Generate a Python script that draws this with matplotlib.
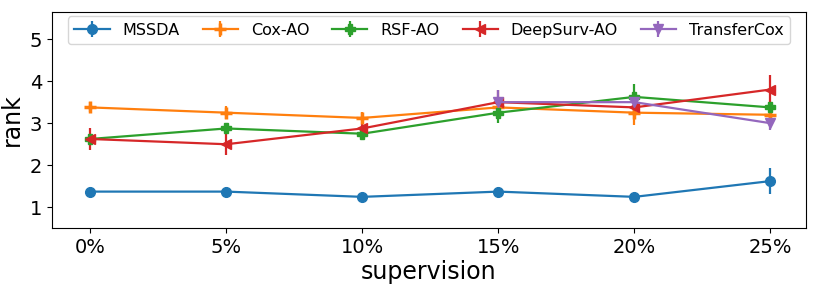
import numpy as np
import matplotlib
matplotlib.use("Agg")
import matplotlib.pyplot as plt

labels = ["0%", "5%", "10%", "15%", "20%", "25%"]
mssda = [1.375, 1.375, 1.25, 1.375, 1.25, 1.625]
mssda_err = [0.12, 0.12, 0.05, 0.1, 0.06, 0.3]
cox = [3.375, 3.25, 3.125, 3.375, 3.25, 3.2]
cox_err = [0.12, 0.15, 0.15, 0.12, 0.3, 0.1]
rsf = [2.625, 2.875, 2.75, 3.25, 3.625, 3.375]
rsf_err = [0.1, 0.1, 0.1, 0.25, 0.3, 0.1]
deep = [2.625, 2.5, 2.875, 3.5, 3.375, 3.8]
deep_err = [0.25, 0.25, 0.1, 0.3, 0.1, 0.35]
tcox_x = [3, 4, 5]
tcox = [3.5, 3.5, 3.0]
tcox_err = [0.3, 0.1, 0.15]

x = np.arange(len(labels))

fig, ax = plt.subplots(figsize=(8.14, 2.91), dpi=100)
ax.errorbar(x, mssda, yerr=mssda_err, marker="o", ms=7, lw=1.6, label="MSSDA")
ax.errorbar(x, cox, yerr=cox_err, marker="+", ms=9, mew=2.5, lw=1.6, label="Cox-AO")
ax.errorbar(x, rsf, yerr=rsf_err, marker="P", ms=7, lw=1.6, label="RSF-AO")
ax.errorbar(x, deep, yerr=deep_err, marker="<", ms=7, lw=1.6, label="DeepSurv-AO")
ax.errorbar(tcox_x, tcox, yerr=tcox_err, marker="v", ms=7, lw=1.6, label="TransferCox")

ax.set_xticks(x)
ax.set_xticklabels(labels)
ax.set_xlim(-0.28, 5.26)
ax.set_ylim(0.5, 5.65)
ax.set_yticks([1, 2, 3, 4, 5])
ax.tick_params(labelsize=14)
ax.set_xlabel("supervision", fontsize=17, labelpad=2)
ax.set_ylabel("rank", fontsize=17)
ax.legend(ncol=5, loc="upper center", fontsize=11.5, handlelength=2.2,
          borderaxespad=0.3, columnspacing=1.45)
plt.subplots_adjust(left=0.064, right=0.99, top=0.96, bottom=0.215)
plt.savefig("out.png", dpi=100)
